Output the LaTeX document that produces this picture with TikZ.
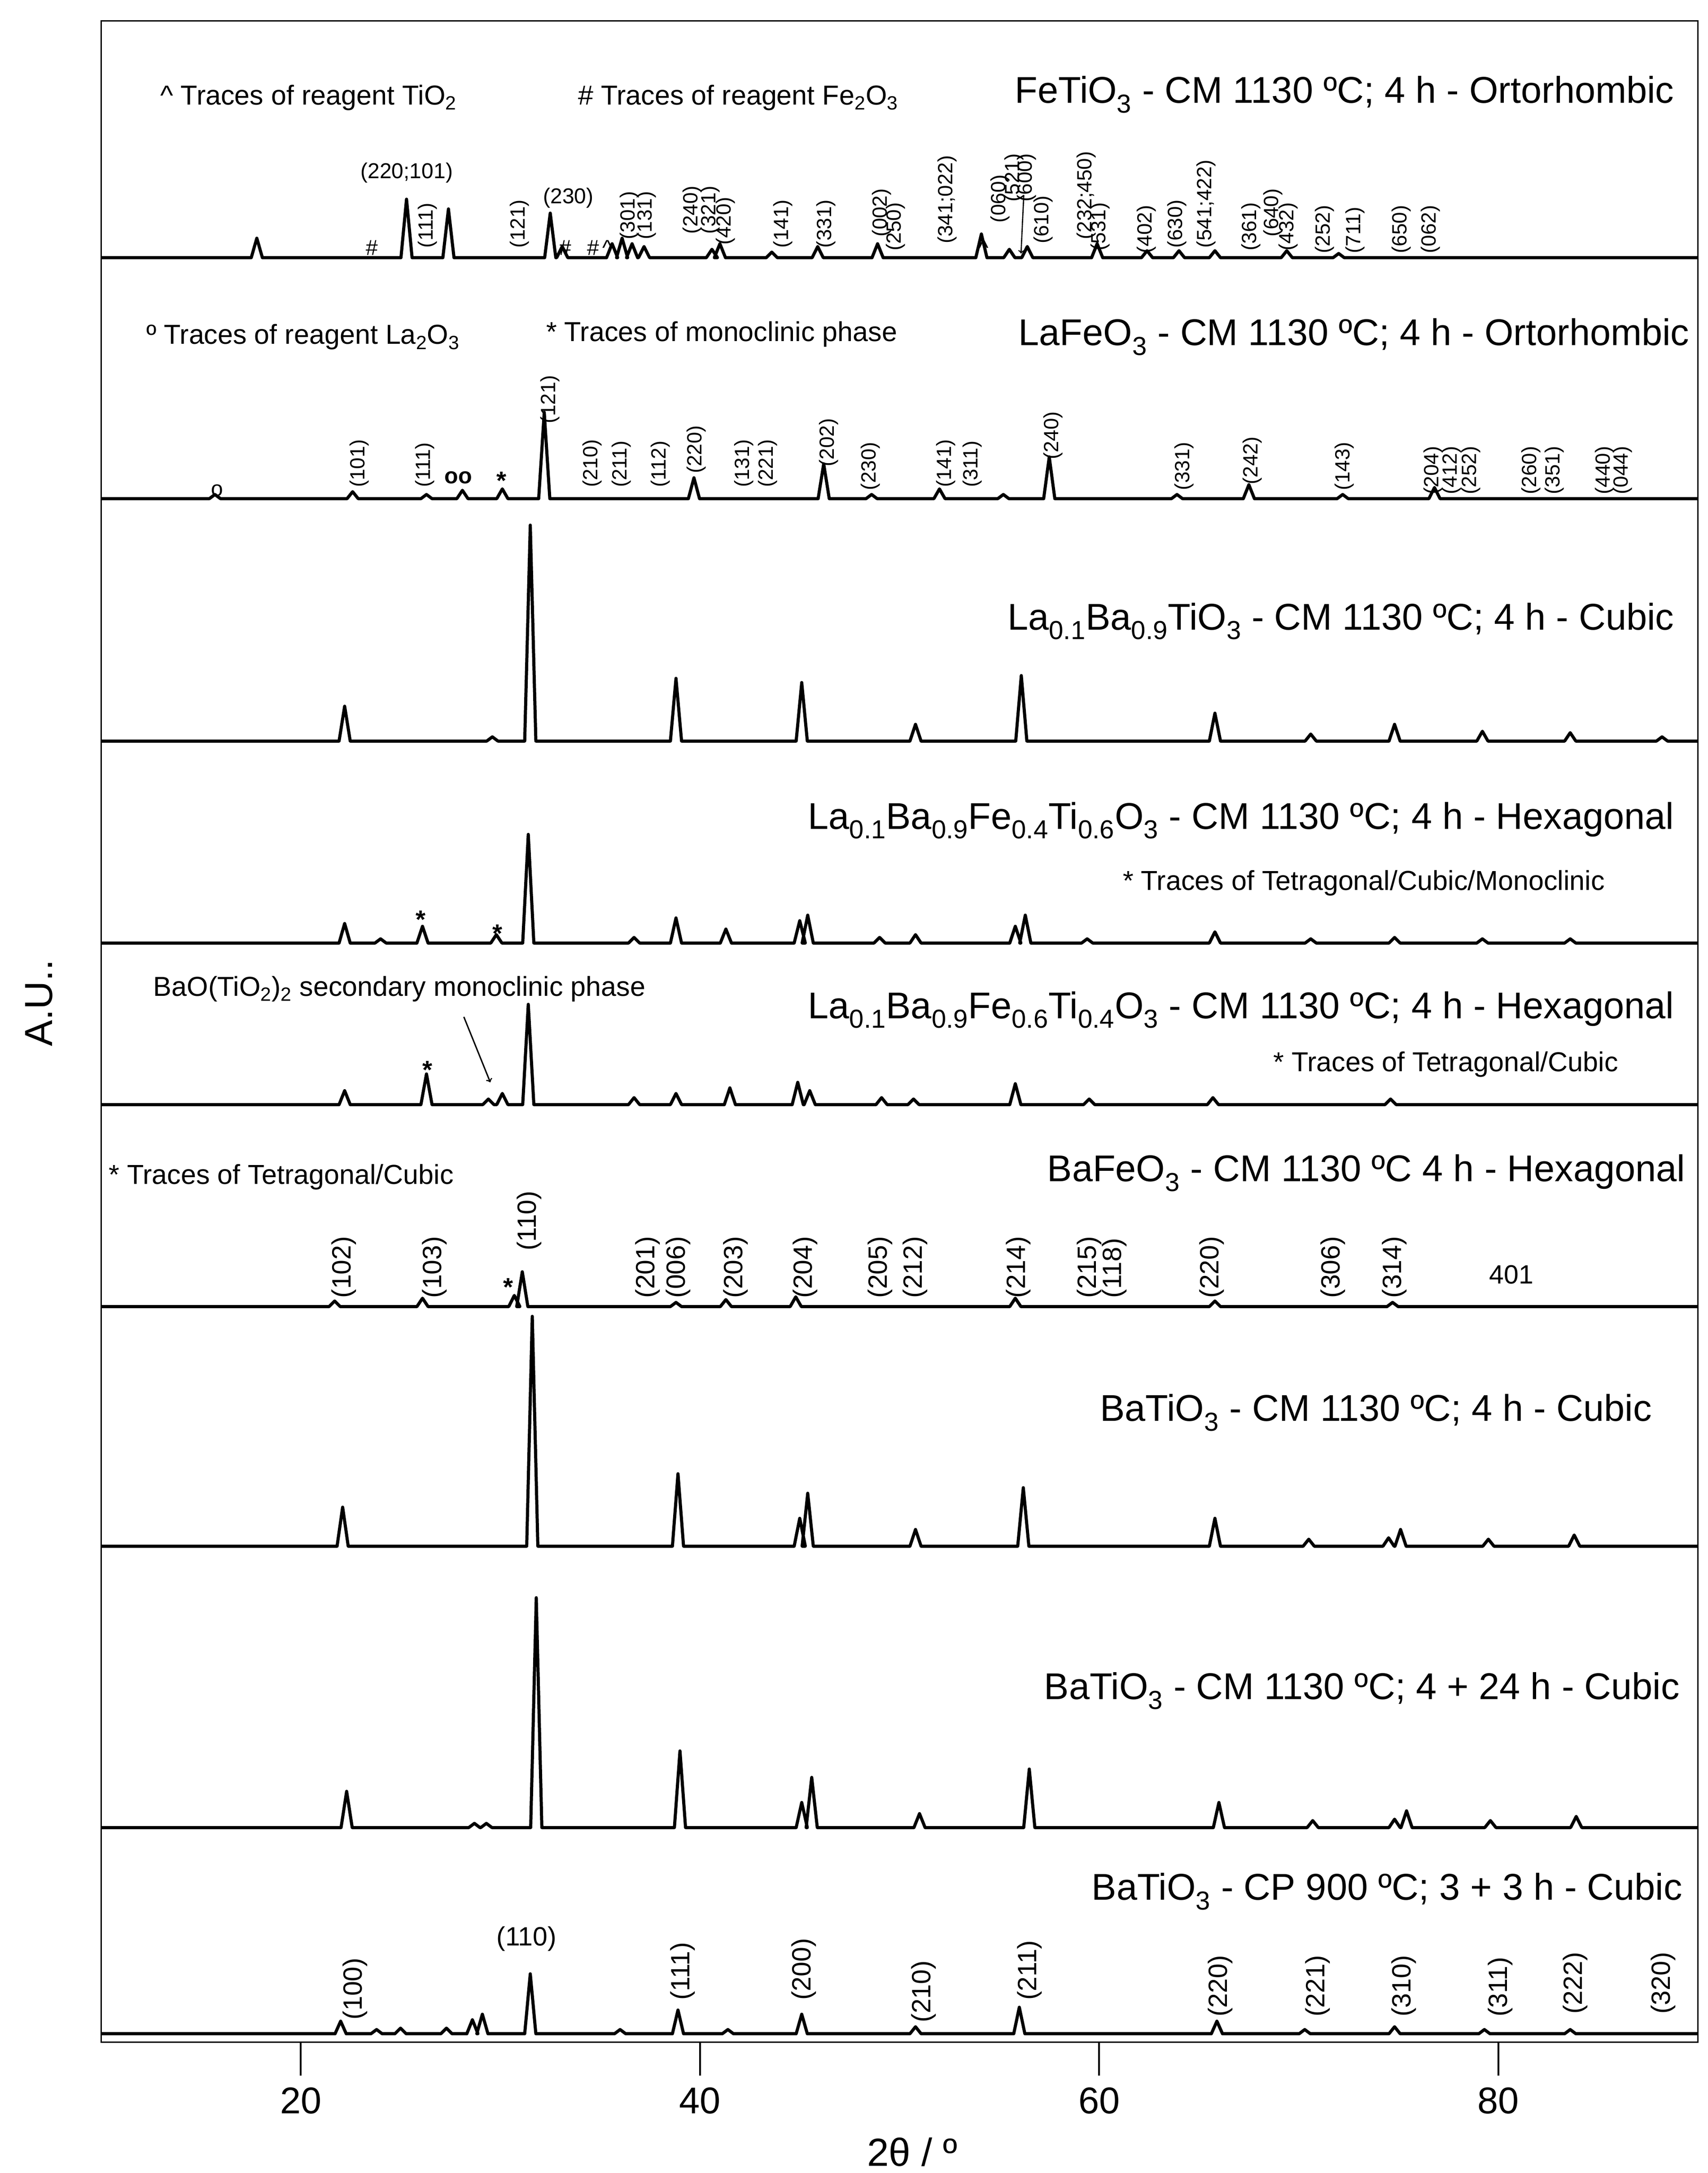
\documentclass[tikz,border=0pt]{standalone}
\usepackage{fontspec}
\setmainfont{Liberation Sans}
\newcommand\X[1]{72.6+(#1-10)*14.33}
\newcommand\trace[2]{\draw[trc] (72.6,#1) \foreach \t/\h in {#2} { -- ({\X{\t}-4},#1) -- ({\X{\t}},#1-\h) -- ({\X{\t}+4},#1) } -- (1219,#1);}
\newcommand\hkl[2]{\foreach \p/\l in {#2}{\node[hk] at (\p,#1) {\l};}}
\newcommand\hkB[2]{\foreach \p/\l in {#2}{\node[hk,font=\fontsize{27}{28}\selectfont] at (\p,#1) {\l};}}
\newcommand\sub[1]{\textsubscript{#1}}
\begin{document}
\begin{tikzpicture}[x=0.05cm,y=-0.05cm,
  trc/.style={line width=3.2pt,line join=round},
  hk/.style={rotate=90,anchor=west,inner sep=0pt,font=\fontsize{21}{22}\selectfont},
  ttl/.style={anchor=east,inner sep=0pt,font=\fontsize{38}{40}\selectfont},
  note/.style={anchor=west,inner sep=0pt,font=\fontsize{28}{30}\selectfont},
  hz/.style={inner sep=0pt,font=\fontsize{22}{24}\selectfont},
  hzB/.style={inner sep=0pt,font=\fontsize{27}{28}\selectfont},
  st/.style={inner sep=0pt,font=\bfseries\fontsize{26}{26}\selectfont}]
\useasboundingbox (0,0) rectangle (1226,1560);
\draw[line width=1.6pt] (72.6,15) rectangle (1219,1466);
\foreach \v in {20,40,60,80}{\draw[line width=2pt] ({\X{\v}},1466) -- ({\X{\v}},1490);
 \node[font=\fontsize{38}{40}\selectfont] at ({\X{\v}},1508) {\v};}
\node[font=\fontsize{40}{40}\selectfont] at (655,1545) {2θ / º};
\node[rotate=90,font=\fontsize{40}{40}\selectfont] at (28,720) {A.U..};
% traces
\trace{185}{17.8/14,25.3/42,27.4/35,32.5/32,33.1/8,35.6/10,36.1/14,36.6/10,37.2/8,40.6/6,41.0/10,43.6/4,45.9/8,48.9/10,54.1/17,55.5/6,56.4/8,59.9/10,62.4/5,64.0/5,65.8/5,69.4/5,72/3}
\trace{358}{15.7/3,22.6/5,26.3/3,28.1/6,30.1/7,32.2/62,39.7/15,46.2/25,48.6/3,52.0/7,55.2/3,57.5/30,63.9/3,67.5/10,72.2/3,76.8/8}
\trace{532}{22.2/25,29.6/3,31.5/155,38.8/45,45.1/42,50.8/12,56.1/47,65.8/20,70.6/5,74.8/12,79.2/7,83.6/6,88.2/3}
\trace{677}{22.2/14,24.0/3,26.1/12,29.8/6,31.4/78,36.7/4,38.8/18,41.3/10,45.0/16,45.4/20,49.0/4,50.8/6,55.8/12,56.3/20,59.4/3,65.8/8,70.6/3,74.8/4,79.2/3,83.6/3}
\trace{793}{22.2/10,26.3/22,29.4/4,30.1/8,31.4/72,36.7/5,38.8/8,41.5/12,44.9/16,45.5/10,49.1/5,50.7/4,55.8/15,59.5/4,65.7/5,74.6/4}
\trace{938}{21.7/4,26.1/6,30.7/8,31.1/25,38.8/3,41.3/5,44.8/7,55.8/6,65.8/4,74.7/3}
\trace{1110}{22.1/28,31.6/165,38.9/52,45.0/20,45.4/38,50.8/12,56.2/42,65.8/20,70.5/5,74.5/6,75.1/12,79.5/5,83.8/8}
\trace{1312}{22.3/26,28.7/3,29.3/3,31.8/165,39.0/55,45.1/18,45.6/36,51.0/10,56.5/42,66.0/18,70.7/5,74.8/6,75.4/12,79.6/5,83.9/8}
\trace{1460}{22.0/9,23.8/3,25.0/4,27.3/4,28.6/10,29.1/14,31.5/43,36.0/3,38.9/17,41.4/3,45.1/14,50.8/5,56.0/19,65.9/9,70.3/3,74.8/5,79.3/3,83.6/3}
% titles
\node[ttl] (t1) at (1202,68) {FeTiO\sub{3} - CM 1130 ºC; 4 h - Ortorhombic};
\node[ttl] (t2) at (1213,242) {LaFeO\sub{3} - CM 1130 ºC; 4 h - Ortorhombic};
\node[ttl] (t3) at (1202,446) {La\sub{0.1}Ba\sub{0.9}TiO\sub{3} - CM 1130 ºC; 4 h - Cubic};
\node[ttl] (t4) at (1202,589) {La\sub{0.1}Ba\sub{0.9}Fe\sub{0.4}Ti\sub{0.6}O\sub{3} - CM 1130 ºC; 4 h - Hexagonal};
\node[ttl] (t5) at (1202,725) {La\sub{0.1}Ba\sub{0.9}Fe\sub{0.6}Ti\sub{0.4}O\sub{3} - CM 1130 ºC; 4 h - Hexagonal};
\node[ttl] (t6) at (1210,842) {BaFeO\sub{3} - CM 1130 ºC 4 h - Hexagonal};
\node[ttl] (t7) at (1186,1014) {BaTiO\sub{3} - CM 1130 ºC; 4 h - Cubic};
\node[ttl] (t8) at (1206,1214) {BaTiO\sub{3} - CM 1130 ºC; 4 + 24 h - Cubic};
\node[ttl] (t9) at (1208,1358) {BaTiO\sub{3} - CP 900 ºC; 3 + 3 h - Cubic};
% notes
\node[note] (n1) at (115,70) {\^{} Traces of reagent TiO\sub{2}};
\node[note] (n2) at (415,70) {\# Traces of reagent Fe\sub{2}O\sub{3}};
\node[note] (n3) at (105,242) {º Traces of reagent La\sub{2}O\sub{3}};
\node[note] (n4) at (392,240) {* Traces of monoclinic phase};
\node[note] (n5) at (806,634) {* Traces of Tetragonal/Cubic/Monoclinic};
\node[note] (n6) at (914,764) {* Traces of Tetragonal/Cubic};
\node[note] (n7) at (78,845) {* Traces of Tetragonal/Cubic};
\node[note] (n8) at (110,710) {BaO(TiO\sub{2})\sub{2} secondary monoclinic phase};
\coordinate (a8) at (352,777);
\draw[->,line width=1.4pt] (333,730) -- (a8);
% trace 1 labels
\node[hz] at (292,124) {(220;101)};
\node[hz] at (408,142) {(230)};
\hkl{178}{307/(111),373/(121)}
\hkl{172}{452/(301),464/(131)}
\hkl{168}{497/(240),510/(321)}
\hkl{176}{521/(420)}
\hkl{178}{562/(141),593/(331)}
\hkl{170}{633/(002)}
\hkl{180}{643/(250)}
\hkl{175}{680/(341;022)}
\hkl{160}{718/(060)}
\hkl{145}{728/(521),737/(600)}
\hkl{175}{749/(610)}
\hkl{172}{780/(232;450)}
\hkl{180}{790/(531)}
\hkl{182}{823/(402)}
\hkl{178}{845/(630)}
\hkl{178}{866/(541;422)}
\hkl{180}{898/(361)}
\hkl{170}{914/(640)}
\hkl{180}{925/(432)}
\hkl{182}{951/(252),973/(711),1006/(650),1027/(062)}
\draw[->,line width=1.2pt] (735,140) -- (733,182);
\foreach \p/\s in {267/\#,406/\#,426/\#,436/\^{},706/\^{}}{\node[hz] at (\p,178) {\s};}
% trace 2 labels
\hkl{304}{395/(121)}
\hkl{350}{258/(101),305/(111)}
\hkl{350}{425/(210),446/(211),474/(112)}
\hkl{340}{500/(220)}
\hkl{350}{534/(131),551/(221)}
\hkl{335}{595/(202)}
\hkl{352}{625/(230)}
\hkl{350}{679/(141),698/(311)}
\hkl{330}{756/(240)}
\hkl{352}{850/(331)}
\hkl{348}{899/(242)}
\hkl{352}{965/(143)}
\hkl{355}{1029/(204),1042/(412),1056/(252),1099/(260),1116/(351),1152/(440),1165/(044)}
\node[hz] at (156,352) {o};
\node[hz,font=\bfseries\fontsize{23}{24}\selectfont] at (329,343) {oo};
\node[st] at (360,345) {*};
% trace 4/5 stars
\node[st] at (302,660) {*};
\node[st] at (357,670) {*};
\node[st] at (307,768) {*};
% trace 6 labels
\hkB{932}{247/(102),312/(103)}
\hkB{898}{380/(110)}
\hkB{932}{465/(201),487/(006),528/(203),578/(204),632/(205),657/(212),731/(214),782/(215),800/(118),870/(220),957/(306),1001/(314)}
\node[hzB] at (1085,915) {401};
\node[st] at (365,924) {*};
% trace 9 labels
\node[hzB] at (378,1392) {(110)};
\hkB{1450}{255/(100)}
\hkB{1436}{490/(111),577/(200)}
\hkB{1452}{663/(210)}
\hkB{1436}{739/(211)}
\hkB{1448}{876/(220),946/(221),1008/(310),1077/(311)}
\hkB{1446}{1131/(222),1194/(320)}
\end{tikzpicture}
\end{document}
